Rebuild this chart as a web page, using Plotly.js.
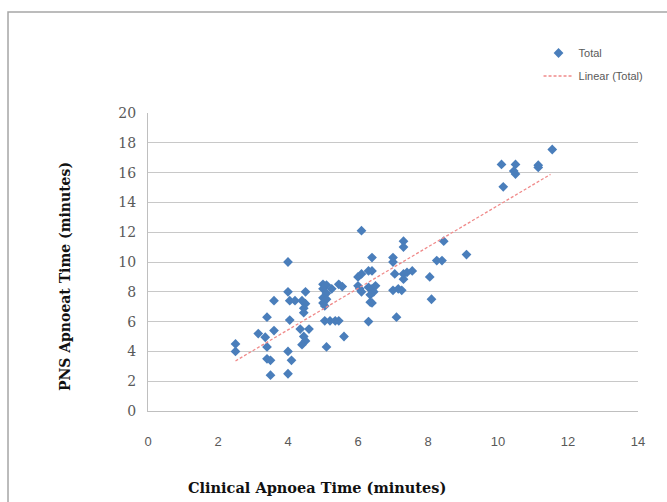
<!DOCTYPE html>
<html>
<head>
<meta charset="utf-8">
<script src="https://cdn.plot.ly/plotly-3.0.1.min.js"></script>
<style>html,body{margin:0;padding:0;background:#fff;}#chart{width:667px;height:502px;}</style>
</head>
<body>
<div id="chart"></div>
<script>
// Clinical apnoea time (minutes) — x values
const clinicalTime = [
  2.5, 2.5, 3.15, 3.35, 3.4, 3.4, 3.5, 3.5, 3.4, 3.6, 3.6,
  4.0, 4.0, 4.05, 4.2, 4.05, 4.0, 4.1, 4.0,
  4.5, 4.4, 4.5, 4.45, 4.45, 4.35, 4.6, 4.45, 4.5, 4.4,
  5.0, 5.1, 5.0, 5.1, 5.0, 5.1, 5.0, 5.05, 5.25, 5.45, 5.55,
  5.05, 5.2, 5.35, 5.45, 5.6, 5.1,
  6.1, 6.4, 6.3, 6.4, 6.1, 6.0,
  6.0, 6.05, 6.1, 6.3, 6.4, 6.45, 6.35, 6.5,
  6.35, 6.4, 6.3,
  7.3, 7.3, 7.0, 7.0, 7.05, 7.3, 7.4, 7.55, 7.3,
  7.0, 7.15, 7.25, 7.1,
  8.45, 8.25, 8.4, 9.1, 8.05, 8.1,
  10.1, 10.5, 10.45, 10.5, 11.15, 11.15, 11.55, 10.15
];
// PNS apnoea time (minutes) — y values
const pnsTime = [
  4.5, 4.0, 5.2, 4.95, 4.3, 3.5, 3.4, 2.4, 6.3, 7.4, 5.4,
  10.0, 8.0, 7.4, 7.4, 6.1, 4.0, 3.4, 2.5,
  8.0, 7.4, 7.2, 6.9, 6.6, 5.5, 5.5, 5.0, 4.7, 4.45,
  8.5, 8.45, 8.2, 7.9, 7.6, 7.5, 7.25, 7.05, 8.2, 8.5, 8.35,
  6.05, 6.05, 6.05, 6.05, 5.0, 4.3,
  12.1, 10.3, 9.4, 9.4, 9.2, 9.0,
  8.4, 8.2, 8.0, 8.3, 8.2, 8.0, 7.8, 8.4,
  7.3, 7.25, 6.0,
  11.4, 11.0, 10.3, 10.0, 9.2, 9.2, 9.3, 9.4, 8.85,
  8.1, 8.2, 8.1, 6.3,
  11.4, 10.1, 10.1, 10.5, 9.0, 7.5,
  16.55, 16.55, 16.1, 15.9, 16.5, 16.35, 17.55, 15.05
];
// Linear trend line (Total), endpoints
const trendX = [2.5, 11.5];
const trendY = [3.36, 15.88];

const xTicks = [0, 2, 4, 6, 8, 10, 12, 14];
const yTicks = [0, 2, 4, 6, 8, 10, 12, 14, 16, 18, 20];

const seriesNames = ['Total', 'Linear (Total)'];
const xTitle = 'Clinical Apnoea Time (minutes)';
const yTitle = 'PNS Apnoeat Time (minutes)';

const traces = [
  {
    x: clinicalTime, y: pnsTime, type: 'scatter', mode: 'markers',
    name: seriesNames[0], legendgroup: 'a',
    marker: {symbol: 'diamond', size: 7.5, color: '#4a7ebb'}
  },
  {
    x: trendX, y: trendY, type: 'scatter', mode: 'lines',
    name: seriesNames[1], legendgroup: 'b',
    line: {color: '#f08a8a', width: 1.3, dash: '3px,2px'}
  }
];

const layout = {
  width: 667, height: 502,
  margin: {l: 148, r: 29, t: 113, b: 91},
  paper_bgcolor: '#ffffff', plot_bgcolor: '#ffffff',
  showlegend: true,
  legend: {
    x: 0.797, xanchor: 'left', y: 1.25, yanchor: 'top',
    font: {family: 'Liberation Sans, Arial, sans-serif', size: 11, color: '#595959'},
    bgcolor: 'rgba(0,0,0,0)', tracegroupgap: 4, traceorder: 'grouped'
  },
  xaxis: {
    range: [0, 14], tickvals: xTicks, ticktext: xTicks.map(String),
    showgrid: false, zeroline: false, showline: true, linecolor: '#bfbfbf', linewidth: 1,
    ticks: '', ticklabelstandoff: 18,
    tickfont: {family: 'Liberation Sans, Arial, sans-serif', size: 13, color: '#595959'}
  },
  yaxis: {
    range: [0, 20], tickvals: yTicks, ticktext: yTicks.map(String),
    showgrid: true, gridcolor: '#c8c8c8', gridwidth: 1,
    zeroline: false, showline: true, linecolor: '#bfbfbf', linewidth: 1,
    ticks: '', ticklabelstandoff: 8,
    tickfont: {family: 'DejaVu Serif, serif', size: 14, color: '#595959'}
  },
  annotations: [
    {text: '<b>' + xTitle + '</b>', xref: 'paper', yref: 'paper', x: 0.345, y: -0.258,
     xanchor: 'center', yanchor: 'middle', showarrow: false,
     font: {family: 'DejaVu Serif, serif', size: 14.5, color: '#111111'}},
    {text: '<b>' + yTitle + '</b>', xref: 'paper', yref: 'paper', x: -0.169, y: 0.45,
     xanchor: 'center', yanchor: 'middle', showarrow: false, textangle: -90,
     font: {family: 'DejaVu Serif, serif', size: 14, color: '#111111'}}
  ],
  shapes: [
    {type: 'rect', xref: 'paper', yref: 'paper', x0: -0.2857, x1: 1.08, y0: -0.32, y1: 1.339,
     line: {color: '#a6a6a6', width: 1.5}, fillcolor: 'rgba(0,0,0,0)', layer: 'below'}
  ]
};

Plotly.newPlot('chart', traces, layout, {displayModeBar: false, staticPlot: true});
</script>
</body>
</html>
